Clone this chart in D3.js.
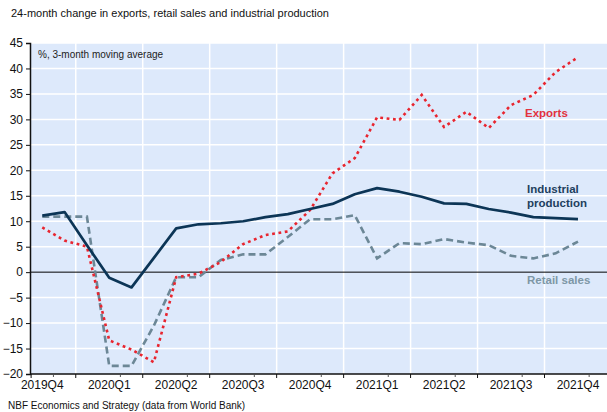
<!DOCTYPE html>
<html><head><meta charset="utf-8">
<script src="https://cdn.jsdelivr.net/npm/d3@7"></script>
<style>body{margin:0;background:#fff}svg{display:block;font-family:"Liberation Sans",Arial,sans-serif}</style>
</head><body>
<svg id="c" width="607" height="412"></svg>
<script>
const months = ["2019-11","2019-12","2020-01","2020-02","2020-03","2020-04","2020-05","2020-06","2020-07","2020-08","2020-09","2020-10","2020-11","2020-12","2021-01","2021-02","2021-03","2021-04","2021-05","2021-06","2021-07","2021-08","2021-09","2021-10","2021-11"];
const exportsSeries = [8.8,6.2,5.0,-13.4,-15.2,-17.7,-1.0,-0.3,2.0,5.5,7.3,8.0,12.2,19.4,22.4,30.4,29.9,34.8,28.5,31.5,28.3,32.8,34.8,39.3,42.2];
const industrialSeries = [11.1,11.8,5.3,-1.1,-3.0,2.8,8.6,9.4,9.6,10.0,10.8,11.4,12.4,13.4,15.3,16.5,15.8,14.8,13.5,13.4,12.4,11.7,10.8,10.6,10.4];
const retailSeries = [10.9,10.9,10.9,-18.4,-18.4,-10.5,-1.0,-1.0,2.4,3.5,3.5,6.9,10.4,10.4,11.2,2.7,5.7,5.5,6.5,5.8,5.3,3.2,2.7,3.7,6.0];
const quarterLabels = ["2019Q4","2020Q1","2020Q2","2020Q3","2020Q4","2021Q1","2021Q2","2021Q3","2021Q4"];
const yTicks = [-20,-15,-10,-5,0,5,10,15,20,25,30,35,40,45];

const svg = d3.select("#c");
const L=30, T=43, B=374, R=607;
const x = d3.scaleLinear().domain([-0.55, 25.3]).range([L, R]);
const y = d3.scaleLinear().domain([-20, 45]).range([B, T]);

svg.append("rect").attr("x",L).attr("y",T).attr("width",R-L).attr("height",B-T).attr("fill","#dde9fb");

// gridlines
svg.append("g").selectAll("line").data(yTicks.filter(d=>d!==-20&&d!==0)).join("line")
  .attr("x1",L).attr("x2",R).attr("y1",d=>y(d)).attr("y2",d=>y(d))
  .attr("stroke","#fff").attr("stroke-width",1.5);
const qBounds = quarterLabels.slice(1).map((q,i)=>1.5+3*i);
svg.append("g").selectAll("line").data(qBounds).join("line")
  .attr("x1",d=>x(d)).attr("x2",d=>x(d)).attr("y1",T).attr("y2",B)
  .attr("stroke","#fff").attr("stroke-width",1.5);

// zero line
svg.append("line").attr("x1",L).attr("x2",R).attr("y1",y(0)).attr("y2",y(0)).attr("stroke","#000").attr("stroke-width",1);

// y axis
const yAxis = d3.axisLeft(y).tickValues(yTicks).tickSize(4).tickPadding(3);
const gy = svg.append("g").attr("transform",`translate(${L},0)`).call(yAxis);
gy.select(".domain").attr("stroke","#111").attr("stroke-width",1.5);
gy.selectAll(".tick line").attr("stroke","#111");
gy.selectAll("text").attr("font-size",12).attr("fill","#111").attr("font-family","Liberation Sans, Arial");

// x axis
const gx = svg.append("g").attr("transform",`translate(0,${B})`);
gx.append("line").attr("x1",L).attr("x2",R).attr("stroke","#111").attr("stroke-width",1.5);
gx.selectAll("line.maj").data([-0.5].concat(qBounds)).join("line").attr("class","maj")
  .attr("x1",d=>x(d)).attr("x2",d=>x(d)).attr("y1",0).attr("y2",4).attr("stroke","#111");
gx.selectAll("line.min").data(quarterLabels.map((q,i)=>0.5+3*i)).join("line").attr("class","min")
  .attr("x1",d=>x(d)).attr("x2",d=>x(d)).attr("y1",1).attr("y2",3).attr("stroke","#555");
gx.selectAll("text").data(quarterLabels).join("text")
  .attr("x",(d,i)=>x(3*i)).attr("y",15).attr("text-anchor","middle")
  .attr("font-size",12).attr("fill","#111").text(d=>d);

// lines
const line = d3.line().x((d,i)=>x(i)).y(d=>y(d));
const plot = svg.append("g");
plot.append("path").datum(retailSeries).attr("d",line).attr("fill","none")
  .attr("stroke","#6c8796").attr("stroke-width",2.6).attr("stroke-dasharray","7,4");
plot.append("path").datum(exportsSeries).attr("d",line).attr("fill","none")
  .attr("stroke","#e8252f").attr("stroke-width",2.6).attr("stroke-dasharray","2.8,3.6");
plot.append("path").datum(industrialSeries).attr("d",line).attr("fill","none")
  .attr("stroke","#0c3556").attr("stroke-width",2.7).attr("stroke-linejoin","round");

// annotations
svg.append("text").attr("x",38).attr("y",57.5).attr("font-size",10).attr("fill","#222").text("%, 3-month moving average");
svg.append("text").attr("x",525).attr("y",117).attr("font-size",11.5).attr("font-weight","bold").attr("fill","#e23240").text("Exports");
const ip = svg.append("text").attr("font-size",11.5).attr("font-weight","bold").attr("fill","#1d3f5e");
ip.append("tspan").attr("x",527).attr("y",193).text("Industrial");
ip.append("tspan").attr("x",527).attr("y",206.5).text("production");
svg.append("text").attr("x",527).attr("y",284).attr("font-size",11.5).attr("font-weight","bold").attr("fill","#7e97a6").text("Retail sales");

// titles
svg.append("text").attr("x",11).attr("y",16.5).attr("font-size",11).attr("fill","#111").text("24-month change in exports, retail sales and industrial production");
svg.append("text").attr("x",8).attr("y",409).attr("font-size",10).attr("fill","#111").text("NBF Economics and Strategy (data from World Bank)");
</script>
</body></html>
